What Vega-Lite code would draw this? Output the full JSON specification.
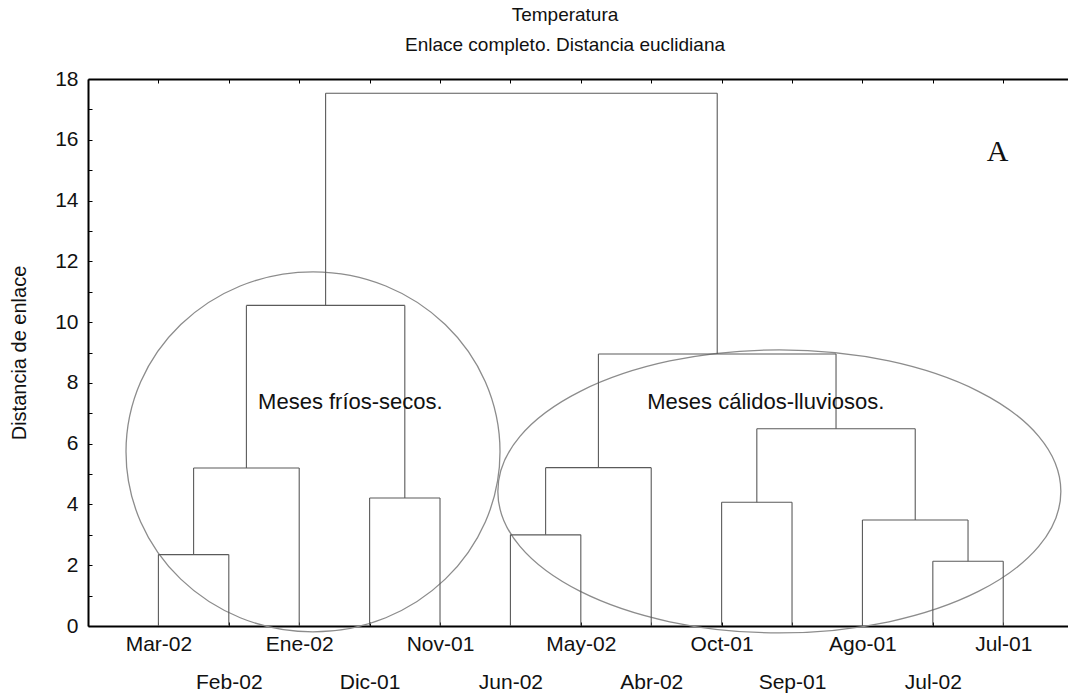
{
  "$schema": "https://vega.github.io/schema/vega-lite/v6.json",
  "width": 980,
  "height": 547,
  "autosize": {"type": "none"},
  "padding": {"left": 88, "top": 79, "right": 0, "bottom": 68},
  "background": "white",
  "config": {"view": {"stroke": null}, "font": "Liberation Sans"},
  "title": {
    "text": "Temperatura",
    "subtitle": "Enlace completo. Distancia euclidiana",
    "font": "Liberation Sans",
    "subtitleFont": "Liberation Sans",
    "fontSize": 19,
    "subtitleFontSize": 19,
    "fontWeight": "normal",
    "color": "#111111",
    "subtitleColor": "#111111",
    "anchor": "middle",
    "dx": -13,
    "offset": 13,
    "subtitlePadding": 11
  },
  "datasets": {
    "links": [
      {"x": 1, "x2": 1, "y": 0, "y2": 2.35},
      {"x": 2, "x2": 2, "y": 0, "y2": 2.35},
      {"x": 3, "x2": 3, "y": 0, "y2": 5.2},
      {"x": 4, "x2": 4, "y": 0, "y2": 4.21},
      {"x": 5, "x2": 5, "y": 0, "y2": 4.21},
      {"x": 6, "x2": 6, "y": 0, "y2": 3.0},
      {"x": 7, "x2": 7, "y": 0, "y2": 3.0},
      {"x": 8, "x2": 8, "y": 0, "y2": 5.21},
      {"x": 9, "x2": 9, "y": 0, "y2": 4.07},
      {"x": 10, "x2": 10, "y": 0, "y2": 4.07},
      {"x": 11, "x2": 11, "y": 0, "y2": 3.49},
      {"x": 12, "x2": 12, "y": 0, "y2": 2.13},
      {"x": 13, "x2": 13, "y": 0, "y2": 2.13},
      {"x": 1, "x2": 2, "y": 2.35, "y2": 2.35},
      {"x": 1.5, "x2": 1.5, "y": 2.35, "y2": 5.2},
      {"x": 1.5, "x2": 3, "y": 5.2, "y2": 5.2},
      {"x": 4, "x2": 5, "y": 4.21, "y2": 4.21},
      {"x": 2.25, "x2": 2.25, "y": 5.2, "y2": 10.55},
      {"x": 4.5, "x2": 4.5, "y": 4.21, "y2": 10.55},
      {"x": 2.25, "x2": 4.5, "y": 10.55, "y2": 10.55},
      {"x": 6, "x2": 7, "y": 3.0, "y2": 3.0},
      {"x": 6.5, "x2": 6.5, "y": 3.0, "y2": 5.21},
      {"x": 6.5, "x2": 8, "y": 5.21, "y2": 5.21},
      {"x": 9, "x2": 10, "y": 4.07, "y2": 4.07},
      {"x": 12, "x2": 13, "y": 2.13, "y2": 2.13},
      {"x": 12.5, "x2": 12.5, "y": 2.13, "y2": 3.49},
      {"x": 11, "x2": 12.5, "y": 3.49, "y2": 3.49},
      {"x": 9.5, "x2": 9.5, "y": 4.07, "y2": 6.49},
      {"x": 11.75, "x2": 11.75, "y": 3.49, "y2": 6.49},
      {"x": 9.5, "x2": 11.75, "y": 6.49, "y2": 6.49},
      {"x": 7.25, "x2": 7.25, "y": 5.21, "y2": 8.95},
      {"x": 10.625, "x2": 10.625, "y": 6.49, "y2": 8.95},
      {"x": 7.25, "x2": 10.625, "y": 8.95, "y2": 8.95},
      {"x": 3.375, "x2": 3.375, "y": 10.55, "y2": 17.53},
      {"x": 8.9375, "x2": 8.9375, "y": 8.95, "y2": 17.53},
      {"x": 3.375, "x2": 8.9375, "y": 17.53, "y2": 17.53}
    ],
    "ellipses": [
      {"grupo": "frios", "cx": 3.196, "cy": 5.73},
      {"grupo": "calidos", "cx": 9.82, "cy": 4.43}
    ],
    "labels": [
      {"texto": "Meses fríos-secos.", "x": 3.727, "y": 7.37},
      {"texto": "Meses cálidos-lluviosos.", "x": 9.628, "y": 7.38}
    ],
    "panel": [
      {"texto": "A", "x": 12.92, "y": 15.61}
    ]
  },
  "resolve": {"axis": {"x": "independent", "y": "independent"}},
  "layer": [
    {
      "data": {"name": "ellipses"},
      "transform": [{"filter": "datum.grupo === 'frios'"}],
      "mark": {
        "type": "point",
        "shape": "M-1,0C-1,-0.5316,-0.5523,-0.9626,0,-0.9626C0.5523,-0.9626,1,-0.5316,1,0C1,0.5316,0.5523,0.9626,0,0.9626C-0.5523,0.9626,-1,0.5316,-1,0Z",
        "size": 139876,
        "filled": false,
        "color": "#8c8c8c",
        "opacity": 1,
        "strokeWidth": 1.3
      },
      "encoding": {
        "x": {"field": "cx", "type": "quantitative", "axis": null},
        "y": {"field": "cy", "type": "quantitative", "axis": null}
      }
    },
    {
      "data": {"name": "ellipses"},
      "transform": [{"filter": "datum.grupo === 'calidos'"}],
      "mark": {
        "type": "point",
        "shape": "M-1,0C-1,-0.2776,-0.5523,-0.5027,0,-0.5027C0.5523,-0.5027,1,-0.2776,1,0C1,0.2776,0.5523,0.5027,0,0.5027C-0.5523,0.5027,-1,0.2776,-1,0Z",
        "size": 316969,
        "filled": false,
        "color": "#8c8c8c",
        "opacity": 1,
        "strokeWidth": 1.3
      },
      "encoding": {
        "x": {"field": "cx", "type": "quantitative", "axis": null},
        "y": {"field": "cy", "type": "quantitative", "axis": null}
      }
    },
    {
      "data": {"name": "links"},
      "mark": {"type": "rule", "color": "#5a5a5a", "strokeWidth": 1.1},
      "encoding": {
        "x": {
          "field": "x",
          "type": "quantitative",
          "scale": {"domain": [0, 13.92], "nice": false, "zero": false},
          "axis": {
            "orient": "bottom",
            "values": [1, 2, 3, 4, 5, 6, 7, 8, 9, 10, 11, 12, 13],
            "labelExpr": "['','Mar-02','Feb-02','Ene-02','Dic-01','Nov-01','Jun-02','May-02','Abr-02','Oct-01','Sep-01','Ago-01','Jul-02','Jul-01'][datum.value]",
            "labelPadding": {"condition": {"test": "datum.value % 2 === 0", "value": 49}, "value": 11},
            "labelFont": "Liberation Sans",
            "labelFontSize": 21,
            "labelColor": "#111111",
            "labelBaseline": "top",
            "labelFlush": false,
            "labelOverlap": false,
            "tickSize": -4,
            "tickColor": "black",
            "domainColor": "black",
            "domainWidth": 2,
            "grid": false,
            "title": null
          }
        },
        "x2": {"field": "x2"},
        "y": {
          "field": "y",
          "type": "quantitative",
          "scale": {"domain": [0, 18], "nice": false},
          "axis": {
            "orient": "left",
            "values": [0, 1, 2, 3, 4, 5, 6, 7, 8, 9, 10, 11, 12, 13, 14, 15, 16, 17, 18],
            "labelExpr": "datum.value % 2 === 0 ? datum.label : ''",
            "labelFont": "Liberation Sans",
            "labelFontSize": 21,
            "labelColor": "#111111",
            "labelPadding": 14,
            "labelFlush": false,
            "labelOverlap": false,
            "tickSize": -4,
            "tickColor": "black",
            "domainColor": "black",
            "domainWidth": 2,
            "grid": false,
            "title": "Distancia de enlace",
            "titleFont": "Liberation Sans",
            "titleFontSize": 20,
            "titleFontWeight": "normal",
            "titleColor": "#111111",
            "titlePadding": 25
          }
        },
        "y2": {"field": "y2"}
      }
    },
    {
      "data": {"name": "labels"},
      "mark": {"type": "text", "font": "Liberation Sans", "fontSize": 22, "color": "#111111", "align": "center", "baseline": "middle"},
      "encoding": {
        "x": {"field": "x", "type": "quantitative", "axis": null},
        "y": {"field": "y", "type": "quantitative", "axis": null},
        "text": {"field": "texto"}
      }
    },
    {
      "data": {"name": "panel"},
      "mark": {"type": "text", "font": "Liberation Serif", "fontSize": 30, "color": "#111111", "align": "center", "baseline": "middle"},
      "encoding": {
        "x": {
          "field": "x",
          "type": "quantitative",
          "axis": {
            "orient": "top",
            "values": [1, 2, 3, 4, 5, 6, 7, 8, 9, 10, 11, 12, 13],
            "labels": false,
            "tickSize": -4,
            "tickColor": "black",
            "domainColor": "black",
            "domainWidth": 2,
            "grid": false,
            "title": null
          }
        },
        "y": {"field": "y", "type": "quantitative", "axis": null},
        "text": {"field": "texto"}
      }
    }
  ]
}
